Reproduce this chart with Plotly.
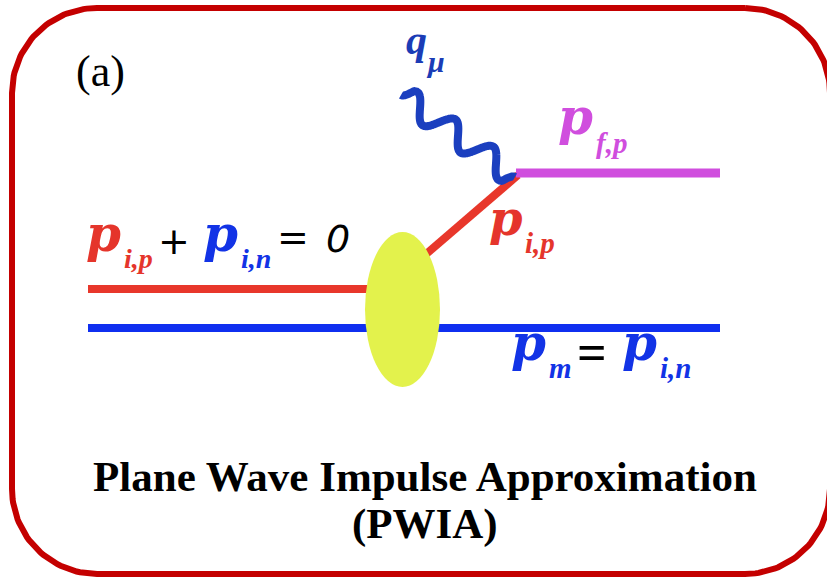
import numpy as np
import plotly.graph_objects as go

W, H = 827, 577

# ---- diagram geometry (units = pixels, y grows downward) ----
frame_box = [12, 8, 830, 574]          # x0, y0, x1, y1
frame_radius = 85

incoming_proton_x = [88, 368]
incoming_proton_y = [289, 289]
neutron_x = [88, 720]
neutron_y = [328, 328]
struck_proton_x = [425, 518]
struck_proton_y = [255, 175]
final_proton_x = [516, 720]
final_proton_y = [173, 173]

photon_start = [401, 95]
photon_end = [515, 177]
photon_periods = 3
photon_amplitude = 12

blob_x = [365, 440]
blob_y = [232, 387]

# ---- labels: text, left x, centre y, size, colour, family, weight, style ----
SERIF = "Liberation Serif"
MATH = "DejaVu Serif"
SANS = "DejaVu Sans"
label_text = ["(a)", "q", "μ", "p", "f,p",
              "p", "i,p", "+", "p", "i,n", "=", "0",
              "p", "i,p",
              "p", "m", "=", "p", "i,n",
              "Plane Wave Impulse Approximation", "(PWIA)"]
label_x = [74, 404, 424, 556, 594,
           84, 122, 156, 201, 239, 275, 324,
           487, 523,
           509, 547, 575, 620, 658,
           425, 425]
label_y = [71, 40, 61, 116, 143,
           233, 258, 241, 233, 258, 237, 239,
           218, 243,
           342, 368, 352, 342, 368,
           476, 524]
label_size = [44, 42, 30, 50, 29,
              50, 28, 38, 50, 28, 38, 38,
              48, 29,
              50, 29, 52, 50, 29,
              43, 43]
label_color = ["#000000", "#1b3cb6", "#1b3cb6", "#d04ede", "#d04ede",
               "#e5352b", "#e5352b", "#000000", "#1233e6", "#1233e6", "#000000", "#000000",
               "#e5352b", "#e5352b",
               "#1233e6", "#1233e6", "#000000", "#1233e6", "#1233e6",
               "#000000", "#000000"]
label_family = [SERIF, SERIF, SERIF, MATH, SERIF,
                MATH, SERIF, SANS, MATH, SERIF, SANS, SANS,
                MATH, SERIF,
                MATH, SERIF, SERIF, MATH, SERIF,
                SERIF, SERIF]
label_weight = ["normal", "bold", "bold", "bold", "bold",
                "bold", "bold", "normal", "bold", "bold", "normal", "normal",
                "bold", "bold",
                "bold", "bold", "bold", "bold", "bold",
                "bold", "bold"]
label_style = ["normal", "italic", "italic", "italic", "italic",
               "italic", "italic", "normal", "italic", "italic", "normal", "italic",
               "italic", "italic",
               "italic", "italic", "normal", "italic", "italic",
               "normal", "normal"]
label_anchor = ["left"] * 19 + ["center", "center"]


def rounded_rect(x0, y0, x1, y1, r, n=40):
    xs, ys = [], []
    corners = [(x1 - r, y0 + r, -90, 0), (x1 - r, y1 - r, 0, 90),
               (x0 + r, y1 - r, 90, 180), (x0 + r, y0 + r, 180, 270)]
    for cx, cy, a0, a1 in corners:
        a = np.radians(np.linspace(a0, a1, n))
        xs += list(cx + r * np.cos(a))
        ys += list(cy + r * np.sin(a))
    xs.append(xs[0])
    ys.append(ys[0])
    return xs, ys


def wavy(p0, p1, periods, amp, n=200):
    p0 = np.array(p0, float)
    p1 = np.array(p1, float)
    d = p1 - p0
    L = np.hypot(*d)
    u = d / L
    nrm = np.array([u[1], -u[0]])
    t = np.linspace(0, 1, n)
    env = np.minimum(1, np.minimum(t, 1 - t) / 0.06)
    off = amp * np.sin(2 * np.pi * periods * t) * env
    pts = p0[None, :] + t[:, None] * d[None, :] + off[:, None] * nrm[None, :]
    return pts[:, 0], pts[:, 1]


fig = go.Figure()

fx, fy = rounded_rect(*frame_box, frame_radius)
fig.add_trace(go.Scatter(x=fx, y=fy, mode="lines",
                         line=dict(color="#c40000", width=6), hoverinfo="skip"))

fig.add_trace(go.Scatter(x=neutron_x, y=neutron_y, mode="lines",
                         line=dict(color="#0f2ff0", width=8), hoverinfo="skip"))
fig.add_trace(go.Scatter(x=incoming_proton_x, y=incoming_proton_y, mode="lines",
                         line=dict(color="#e8372b", width=8), hoverinfo="skip"))
fig.add_trace(go.Scatter(x=struck_proton_x, y=struck_proton_y, mode="lines",
                         line=dict(color="#e8372b", width=8), hoverinfo="skip"))
fig.add_trace(go.Scatter(x=final_proton_x, y=final_proton_y, mode="lines",
                         line=dict(color="#d04ede", width=9), hoverinfo="skip"))
wx, wy = wavy(photon_start, photon_end, photon_periods, photon_amplitude)
fig.add_trace(go.Scatter(x=wx, y=wy, mode="lines",
                         line=dict(color="#1b3fbf", width=8, shape="spline"),
                         hoverinfo="skip"))

fig.add_shape(type="circle", xref="x", yref="y",
              x0=blob_x[0], x1=blob_x[1], y0=blob_y[0], y1=blob_y[1],
              fillcolor="#e3f24c", line=dict(width=0), layer="above")

for i, txt in enumerate(label_text):
    fig.add_annotation(x=label_x[i], y=label_y[i], xref="x", yref="y",
                       text=txt, showarrow=False,
                       xanchor=label_anchor[i], yanchor="middle",
                       font=dict(family=label_family[i], size=label_size[i],
                                 color=label_color[i], weight=label_weight[i],
                                 style=label_style[i]))

fig.update_layout(width=W, height=H, margin=dict(l=0, r=0, t=0, b=0),
                  paper_bgcolor="white", plot_bgcolor="white", showlegend=False,
                  xaxis=dict(range=[0, W], visible=False, fixedrange=True),
                  yaxis=dict(range=[H, 0], visible=False, fixedrange=True))

fig.write_html("out.html", config={"displayModeBar": False},
               post_script="document.body.style.margin='0';document.body.style.overflow='hidden';")
